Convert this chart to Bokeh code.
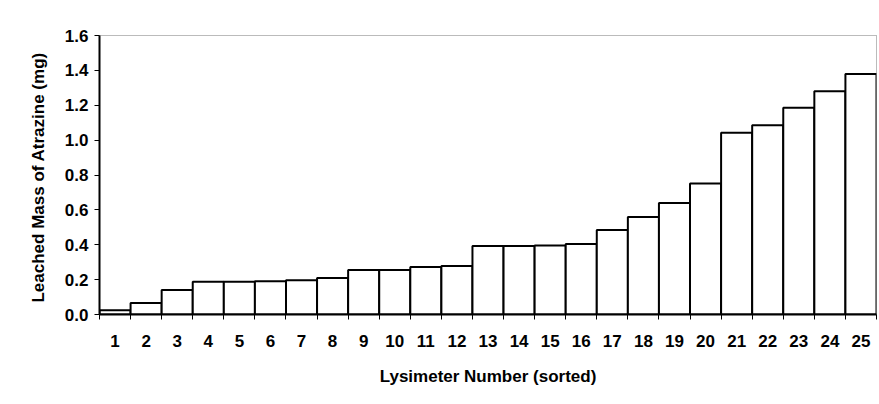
from bokeh.plotting import figure
from bokeh.models import ColumnDataSource, FixedTicker, Range1d, PrintfTickFormatter
from bokeh.embed import file_html
from bokeh.resources import INLINE

lysimeters = list(range(1, 26))
leached_mg = [0.025, 0.066, 0.14, 0.188, 0.188, 0.19, 0.196, 0.21, 0.255, 0.255,
              0.272, 0.278, 0.393, 0.393, 0.395, 0.404, 0.484, 0.559, 0.639, 0.751,
              1.043, 1.085, 1.185, 1.28, 1.379]
y_ticks = [0.0, 0.2, 0.4, 0.6, 0.8, 1.0, 1.2, 1.4, 1.6]

src = ColumnDataSource(dict(x=lysimeters, top=leached_mg))

p = figure(width=879, height=404, output_backend="svg", toolbar_location=None,
           x_range=Range1d(0.5, 25.5), y_range=Range1d(0, 1.6),
           min_border_left=99, min_border_right=3, min_border_top=35, min_border_bottom=90)

p.vbar(x="x", top="top", bottom=0, width=1.0, source=src,
       fill_color="white", line_color="black", line_width=2)

FONT = "Liberation Sans"
p.grid.visible = False
p.outline_line_color = "#777777"
p.outline_line_dash = "1 1"
p.outline_line_width = 1
p.background_fill_color = "white"
p.border_fill_color = "white"

xa = p.xaxis[0]
xa.ticker = FixedTicker(ticks=lysimeters, minor_ticks=[i + 0.5 for i in range(0, 26)])
xa.major_tick_out = 0
xa.major_tick_in = 0
xa.minor_tick_out = 5
xa.minor_tick_in = 0
xa.minor_tick_line_color = "black"
xa.axis_line_color = "black"
xa.axis_line_width = 2
xa.major_label_standoff = 15
xa.major_label_text_font = FONT
xa.major_label_text_font_style = "bold"
xa.major_label_text_font_size = "17px"
xa.major_label_text_color = "black"
xa.axis_label = "Lysimeter Number (sorted)"
xa.axis_label_text_font = FONT
xa.axis_label_text_font_style = "bold"
xa.axis_label_text_font_size = "17px"
xa.axis_label_standoff = 17
xa.axis_label_text_color = "black"

ya = p.yaxis[0]
ya.ticker = FixedTicker(ticks=y_ticks)
ya.formatter = PrintfTickFormatter(format="%.1f")
ya.major_tick_out = 5
ya.major_tick_in = 0
ya.minor_tick_out = 0
ya.minor_tick_in = 0
ya.major_tick_line_color = "black"
ya.axis_line_color = "black"
ya.axis_line_width = 2
ya.major_label_standoff = 6
ya.major_label_text_font = FONT
ya.major_label_text_font_style = "bold"
ya.major_label_text_font_size = "17px"
ya.major_label_text_color = "black"
ya.axis_label = "Leached Mass of Atrazine  (mg)"
ya.axis_label_text_font = FONT
ya.axis_label_text_font_style = "bold"
ya.axis_label_text_font_size = "17px"
ya.axis_label_standoff = 14
ya.axis_label_text_color = "black"

open("out.html", "w").write(file_html(p, INLINE))
